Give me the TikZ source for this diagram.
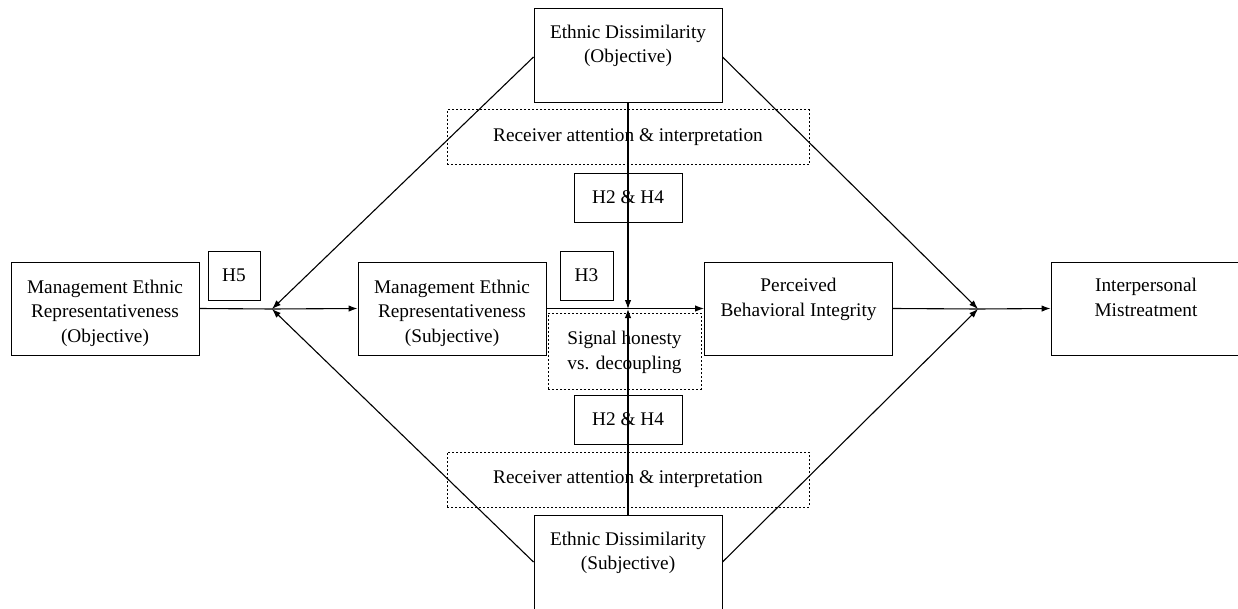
\documentclass[tikz,border=0pt]{standalone}
\usepackage{fontspec}
\setmainfont{Liberation Serif}
\usetikzlibrary{arrows.meta}
\newcommand{\toprl}{\rule{0pt}{22.5pt}}
\begin{document}
\begin{tikzpicture}[x=1pt,y=-1pt,
  every node/.style={font=\fontsize{19.3}{24.5}\selectfont, text=black},
  box/.style={draw, line width=0.95pt, minimum width=188pt, minimum height=93pt, inner sep=0pt, align=center},
  hbox/.style={draw, line width=0.95pt, inner sep=0pt, minimum height=49pt, align=center},
  dbox/.style={draw, line width=1pt, dash pattern=on 2pt off 2pt, inner sep=0pt, align=center},
  ln/.style={line width=1.1pt},
  arr/.style={line width=1.1pt, -{Latex[length=9pt,width=6.5pt]}}]
\useasboundingbox (0,0) rectangle (1238,609);
% boxes
\node[box] (MEO) at (105,308.5) {\toprl Management Ethnic\\Representativeness\\(Objective)};
\node[box] (MES) at (452,308.5) {\toprl Management Ethnic\\Representativeness\\(Subjective)};
\node[box] (PBI) at (798.5,308.5) {\toprl Perceived\\Behavioral Integrity\\\strut};
\node[box, minimum width=190pt] (IM) at (1146,308.5) {\toprl Interpersonal\\Mistreatment\\\strut};
\node[box, minimum height=94pt] (EDO) at (628,55) {\toprl Ethnic Dissimilarity\\(Objective)\\\strut};
\node[box, minimum height=94pt] (EDS) at (628,562) {\toprl Ethnic Dissimilarity\\(Subjective)\\\strut};
% hypothesis labels
\node[hbox, minimum width=52pt] (H5) at (234,275.5) {H5};
\node[hbox, minimum width=53pt] (H3) at (586.5,275.5) {H3};
\node[hbox, minimum width=108pt] (H24a) at (628,197.5) {H2 \& H4};
\node[hbox, minimum width=108pt] (H24b) at (628,419.5) {H2 \& H4};
% dotted boxes
\node[dbox, minimum width=362pt, minimum height=55pt] (RAt) at (628,137.5) {Receiver attention \& interpretation};
\node[dbox, minimum width=362pt, minimum height=55pt] (RAb) at (628,479.5) {Receiver attention \& interpretation};
\node[dbox, minimum width=153pt, minimum height=76pt] (SH) at (624.5,351) {\rule{0pt}{16pt}Signal honesty\\vs. decoupling};
% junctions
\coordinate (jL) at (272,309);
\coordinate (jR) at (978,309);
\coordinate (jM) at (628,309);
% connectors
\draw[ln] (MEO.east) -- (jL);
\draw[arr] (jL) -- (MES.west);
\draw[arr] (MES.east) -- (PBI.west);
\draw[ln] (PBI.east) -- (jR);
\draw[arr] (jR) -- (IM.west);
\draw[arr] ([yshift=-2pt]EDO.west) -- (jL);
\draw[arr] ([yshift=-2pt]EDO.east) -- (jR);
\draw[arr] (EDS.west) -- (jL);
\draw[arr] (EDS.east) -- (jR);
\draw[arr] (EDO.south) -- (jM);
\draw[arr] (EDS.north) -- (jM);
\end{tikzpicture}
\end{document}
